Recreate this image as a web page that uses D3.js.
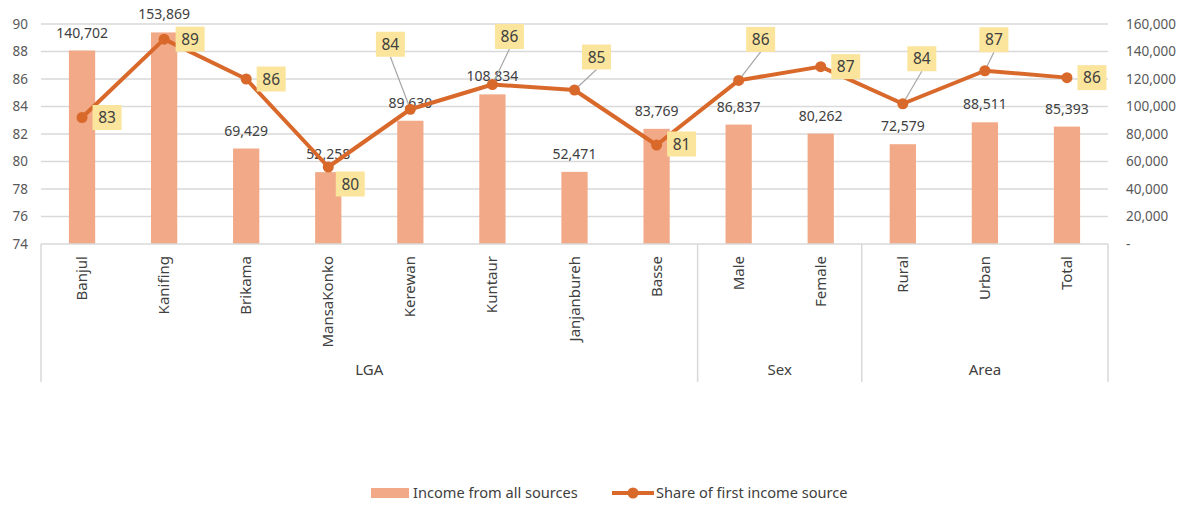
<!DOCTYPE html>
<html>
<head>
<meta charset="utf-8">
<script src="https://cdn.jsdelivr.net/npm/d3@7"></script>
<style>
  html, body { margin: 0; padding: 0; background: #ffffff; }
  svg { display: block; font-family: "Noto Sans", "Open Sans", sans-serif; }
</style>
</head>
<body>
<svg id="chart" width="1190" height="505"></svg>
<script>
// Categories and their grouping on the two-level category axis
const categories = ["Banjul", "Kanifing", "Brikama", "MansaKonko", "Kerewan", "Kuntaur",
  "Janjanbureh", "Basse", "Male", "Female", "Rural", "Urban", "Total"];
const groups = [
  { name: "LGA", first: 0, last: 7 },
  { name: "Sex", first: 8, last: 9 },
  { name: "Area", first: 10, last: 12 }
];

// Series: income from all sources (right axis) and share of first income source (left axis, %)
const incomeAll = [140702, 153869, 69429, 52258, 89630, 108834, 52471, 83769, 86837, 80262, 72579, 88511, 85393];
const shareFirst = [83.2, 88.9, 86.0, 79.6, 83.8, 85.6, 85.2, 81.2, 85.9, 86.9, 84.2, 86.6, 86.1];

// Tick values for the two value axes
const leftTicks = [74, 76, 78, 80, 82, 84, 86, 88, 90];
const rightTicks = [0, 20000, 40000, 60000, 80000, 100000, 120000, 140000, 160000];

// Where each share label box sits relative to its point
const shareLabelOffsets = [[25, 0], [26, 0], [25, 0], [22, 17], [-20, -65], [17, -48], [22, -33],
  [25, -1], [22, -41], [25, 0], [19, -45], [9, -31], [25, 0]];

const svg = d3.select("#chart");
const plot = { left: 41, right: 1108, top: 24, bottom: 244 };
const catAxisBottom = 382;

const barColor = "#f2a988";
const lineColor = "#d9692b";
const gridColor = "#d9d9d9";
const textColor = "#404040";
const tickColor = "#595959";

const x = d3.scaleBand()
  .domain(categories)
  .range([plot.left, plot.right])
  .paddingInner(0.68)
  .paddingOuter(0.34);
const cx = d => x(d) + x.bandwidth() / 2;

const yLeft = d3.scaleLinear().domain([74, 90]).range([plot.bottom, plot.top]);
const yRight = d3.scaleLinear().domain([0, 160000]).range([plot.bottom, plot.top]);

// Horizontal gridlines
svg.append("g")
  .selectAll("line")
  .data(leftTicks.filter(t => t !== 74))
  .join("line")
  .attr("x1", plot.left).attr("x2", plot.right)
  .attr("y1", d => yLeft(d)).attr("y2", d => yLeft(d))
  .attr("stroke", gridColor).attr("stroke-width", 1.3);

// Left axis (share, %)
const leftAxis = d3.axisLeft(yLeft).tickValues(leftTicks).tickSize(0).tickPadding(13);
const gl = svg.append("g").attr("transform", `translate(${plot.left},0)`).call(leftAxis);
gl.select(".domain").remove();
gl.selectAll("text").attr("fill", tickColor).style("font-size", "13.5px")
  .style("font-family", "'Noto Sans', sans-serif");

// Right axis (income)
const fmtIncome = v => v === 0 ? "-" : d3.format(",")(v);
const rightAxis = d3.axisRight(yRight).tickValues(rightTicks).tickSize(0).tickPadding(18)
  .tickFormat(fmtIncome);
const gr = svg.append("g").attr("transform", `translate(${plot.right},0)`).call(rightAxis);
gr.select(".domain").remove();
gr.selectAll("text").attr("fill", tickColor).style("font-size", "13.5px")
  .style("font-family", "'Noto Sans', sans-serif");

// Bars
svg.append("g")
  .selectAll("rect")
  .data(categories)
  .join("rect")
  .attr("x", d => x(d))
  .attr("width", x.bandwidth())
  .attr("y", (d, i) => yRight(incomeAll[i]))
  .attr("height", (d, i) => plot.bottom - yRight(incomeAll[i]))
  .attr("fill", barColor);

// Category axis: baseline, group separators, labels
const catAxis = svg.append("g");
catAxis.append("line")
  .attr("x1", plot.left).attr("x2", plot.right)
  .attr("y1", plot.bottom).attr("y2", plot.bottom)
  .attr("stroke", gridColor).attr("stroke-width", 1.5);

const step = x.step();
const groupEdges = [plot.left];
groups.forEach(g => groupEdges.push(cx(categories[g.last]) + step / 2));
catAxis.selectAll("line.sep")
  .data(groupEdges)
  .join("line")
  .attr("class", "sep")
  .attr("x1", d => d).attr("x2", d => d)
  .attr("y1", plot.bottom).attr("y2", catAxisBottom)
  .attr("stroke", gridColor).attr("stroke-width", 1.5);

catAxis.selectAll("text.cat")
  .data(categories)
  .join("text")
  .attr("class", "cat")
  .attr("transform", d => `translate(${cx(d) + 5},${plot.bottom + 12}) rotate(-90)`)
  .attr("text-anchor", "end")
  .attr("fill", textColor)
  .style("font-size", "15px")
  .text(d => d);

catAxis.selectAll("text.grp")
  .data(groups)
  .join("text")
  .attr("class", "grp")
  .attr("x", g => (cx(categories[g.first]) - step / 2 + cx(categories[g.last]) + step / 2) / 2)
  .attr("y", 375)
  .attr("text-anchor", "middle")
  .attr("fill", textColor)
  .style("font-size", "15px")
  .text(g => g.name);

// Bar value labels
svg.append("g")
  .selectAll("text")
  .data(categories)
  .join("text")
  .attr("x", d => cx(d))
  .attr("y", (d, i) => yRight(incomeAll[i]) - 13)
  .attr("text-anchor", "middle")
  .attr("fill", textColor)
  .style("font-size", "14px")
  .text((d, i) => d3.format(",")(incomeAll[i]));

// Share line
const line = d3.line()
  .x((d, i) => cx(categories[i]))
  .y(d => yLeft(d));
svg.append("path")
  .datum(shareFirst)
  .attr("d", line)
  .attr("fill", "none")
  .attr("stroke", lineColor)
  .attr("stroke-width", 4)
  .attr("stroke-linejoin", "round");

// Leader lines for labels placed away from their points
const boxW = 29, boxH = 25;
const leaders = svg.append("g");
shareFirst.forEach((v, i) => {
  const [dx, dy] = shareLabelOffsets[i];
  if (Math.abs(dy) > 20) {
    const px = cx(categories[i]), py = yLeft(v);
    leaders.append("line")
      .attr("x1", px + dx).attr("y1", py + dy + boxH / 2)
      .attr("x2", px).attr("y2", py)
      .attr("stroke", "#a6a6a6").attr("stroke-width", 1.2);
  }
});

// Share markers
svg.append("g")
  .selectAll("circle")
  .data(shareFirst)
  .join("circle")
  .attr("cx", (d, i) => cx(categories[i]))
  .attr("cy", d => yLeft(d))
  .attr("r", 5.5)
  .attr("fill", lineColor);

// Share value labels in yellow boxes
const boxes = svg.append("g")
  .selectAll("g")
  .data(shareFirst)
  .join("g")
  .attr("transform", (d, i) => {
    const [dx, dy] = shareLabelOffsets[i];
    return `translate(${cx(categories[i]) + dx},${yLeft(d) + dy})`;
  });
boxes.append("rect")
  .attr("x", -boxW / 2).attr("y", -boxH / 2)
  .attr("width", boxW).attr("height", boxH)
  .attr("fill", "#fbe59c");
boxes.append("text")
  .attr("text-anchor", "middle")
  .attr("dy", "0.36em")
  .attr("fill", textColor)
  .style("font-size", "15.5px")
  .text(d => d3.format(".0f")(d));

// Legend
const legend = svg.append("g").attr("transform", "translate(0,493)");
legend.append("rect")
  .attr("x", 371).attr("y", -5).attr("width", 38).attr("height", 10)
  .attr("fill", barColor);
legend.append("text")
  .attr("x", 413).attr("dy", "0.35em")
  .attr("fill", textColor).style("font-size", "14.6px")
  .text("Income from all sources");
legend.append("line")
  .attr("x1", 612).attr("x2", 654).attr("y1", 0).attr("y2", 0)
  .attr("stroke", lineColor).attr("stroke-width", 4);
legend.append("circle")
  .attr("cx", 633).attr("cy", 0).attr("r", 5.5).attr("fill", lineColor);
legend.append("text")
  .attr("x", 656).attr("dy", "0.35em")
  .attr("fill", textColor).style("font-size", "14.6px")
  .text("Share of first income source");
</script>
</body>
</html>
